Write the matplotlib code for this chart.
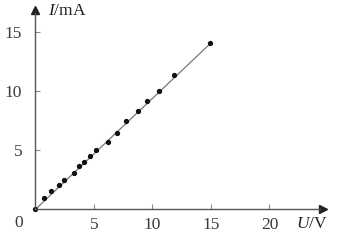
import numpy as np
import matplotlib
matplotlib.use("Agg")
import matplotlib.pyplot as plt

plt.rcParams['font.family'] = ['Liberation Serif', 'DejaVu Serif']
plt.rcParams['mathtext.fontset'] = 'custom'
plt.rcParams['mathtext.it'] = 'Liberation Serif:italic'
plt.rcParams['mathtext.rm'] = 'Liberation Serif'

# measured points (U in V, I in mA)
u_data = [0.0, 0.77, 1.34, 1.99, 2.48, 3.27, 3.70, 4.19, 4.70, 5.19, 6.18, 6.98,
          7.78, 8.74, 9.55, 10.54, 11.88, 14.96]
i_data = [0.0, 0.96, 1.53, 2.03, 2.52, 3.08, 3.64, 4.01, 4.49, 5.00, 5.70, 6.47,
          7.48, 8.31, 9.15, 10.03, 11.42, 14.13]

# fitted line end points
fit_u = [0.0, 15.0]
fit_i = [0.0, 14.1]

x_ticks = [5, 10, 15, 20]
y_ticks = [5, 10, 15]
x_end = 24.6
y_end = 16.9

fig = plt.figure(figsize=(3.4, 2.44), dpi=100)
ax = fig.add_axes([0, 0, 1, 1])
ax.set_xlim(-3.03, 26.03)
ax.set_ylim(-2.94, 17.74)

axis_col = '#555555'
for side in ['top', 'right']:
    ax.spines[side].set_visible(False)
ax.spines['left'].set_position(('data', 0))
ax.spines['bottom'].set_position(('data', 0))
ax.spines['left'].set_bounds(0, y_end - 0.3)
ax.spines['bottom'].set_bounds(0, x_end - 0.3)
for side in ['left', 'bottom']:
    ax.spines[side].set_color(axis_col)
    ax.spines[side].set_linewidth(1.0)

ax.plot(x_end, 0, marker='>', color='#222222', markersize=6, clip_on=False)
ax.plot(0, y_end, marker='^', color='#222222', markersize=6, clip_on=False)

ax.set_xticks(x_ticks)
ax.set_yticks(y_ticks)
ax.tick_params(axis='both', direction='in', length=3.5, width=0.8,
               color='#888888', labelsize=12.5, labelcolor='#3a3a3a')
ax.tick_params(axis='y', pad=9.5)
ax.tick_params(axis='x', pad=5.5)

ax.plot(fit_u, fit_i, color='#777777', linewidth=0.9)
ax.plot(u_data, i_data, 'o', color='#111111', markersize=2.8)

ax.text(-1.4, -1.15, '0', fontsize=12.5, color='#3a3a3a', ha='center', va='center')
ax.text(1.05, 16.85, r'$I$/mA', fontsize=12.5, color='#222222', ha='left', va='center')
ax.text(22.3, -1.25, r'$U$/V', fontsize=12.5, color='#222222', ha='left', va='center')

fig.savefig('out.png', dpi=100)
